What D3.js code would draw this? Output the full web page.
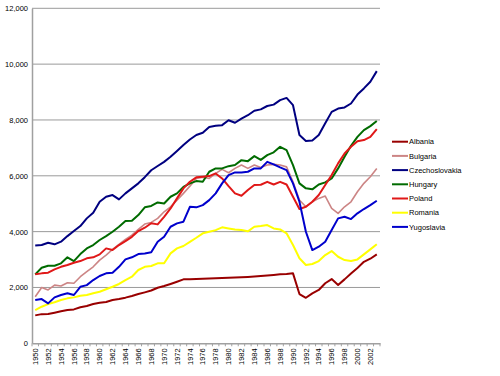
<!DOCTYPE html>
<html>
<head>
<meta charset="utf-8">
<script src="https://cdn.jsdelivr.net/npm/d3@7"></script>
<style>
  body { margin: 0; background: #fff; }
  svg text { font-family: "Liberation Sans", Arial, sans-serif; }
</style>
</head>
<body>
<div id="chart"></div>
<script>
// years on the category axis
var years = d3.range(1950, 2004)

// series values, one per year 1950..2003
var albania = [1000,1045,1050,1095,1145,1190,1215,1290,1335,1405,1455,1480,1550,1585,1635,1695,1765,1825,1890,1990,
  2050,2125,2205,2290,2290,2300,2310,2320,2330,2335,2345,2355,2365,2375,2390,2410,2430,2450,2470,2480,
  2505,1765,1630,1790,1910,2150,2300,2090,2290,2500,2700,2920,3030,3185]
var bulgaria = [1670,2000,1910,2085,2050,2170,2150,2385,2565,2740,2980,3160,3365,3545,3725,3875,4080,4270,4330,4475,
  4710,4890,5130,5370,5630,5905,5945,5905,6085,6230,6110,6265,6385,6265,6385,6300,6385,6410,6385,6320,
  5785,5130,4890,5070,5190,5275,4835,4655,4890,5070,5430,5730,5965,6265]
var czechoslovakia = [3500,3520,3600,3545,3640,3840,4020,4200,4475,4680,5070,5250,5310,5155,5370,5550,5730,5950,6200,6350,
  6500,6680,6890,7100,7300,7460,7540,7750,7790,7815,7990,7900,8050,8170,8330,8380,8500,8550,8710,8790,
  8530,7460,7250,7265,7460,7880,8290,8410,8450,8590,8910,9130,9370,9750]
var hungary = [2470,2705,2780,2780,2865,3080,2945,3195,3400,3520,3700,3840,3995,4175,4380,4390,4595,4870,4920,5045,
  5010,5250,5370,5605,5730,5810,5785,6145,6265,6265,6345,6385,6560,6525,6705,6570,6740,6840,7040,6920,
  6385,5730,5550,5515,5690,5765,5905,6265,6680,7075,7395,7635,7780,7960]
var poland = [2470,2505,2530,2650,2740,2805,2885,2945,3045,3080,3185,3400,3340,3520,3660,3815,4020,4140,4300,4260,
  4530,4830,5190,5550,5785,5945,5965,5990,6085,5905,5630,5370,5285,5490,5670,5680,5785,5690,5785,5690,
  5250,4810,4890,5070,5310,5670,6025,6445,6800,7040,7240,7280,7395,7670]
var romania = [1190,1310,1405,1470,1550,1610,1645,1705,1730,1790,1845,1935,2025,2125,2265,2385,2625,2740,2770,2865,
  2865,3220,3400,3485,3635,3780,3940,3995,4055,4155,4115,4080,4055,4010,4175,4200,4235,4115,4080,3940,
  3520,3045,2805,2840,2945,3160,3305,3100,2980,2945,3005,3185,3365,3545]
var yugoslavia = [1550,1585,1430,1645,1730,1790,1730,2025,2085,2265,2410,2505,2530,2740,3005,3080,3195,3220,3260,3635,
  3815,4175,4295,4355,4890,4870,4950,5130,5370,5730,6025,6120,6120,6145,6265,6265,6500,6410,6300,6205,
  5730,5070,3995,3340,3460,3635,4055,4475,4535,4450,4655,4810,4950,5105]

var seriesNames = ["Albania", "Bulgaria", "Czechoslovakia", "Hungary", "Poland", "Romania", "Yugoslavia"]
var seriesValues = [albania, bulgaria, czechoslovakia, hungary, poland, romania, yugoslavia]
var seriesColors = ["#990000", "#cc8585", "#000080", "#006b00", "#e01818", "#ffff00", "#0000cc"]
var yTicks = [0, 2000, 4000, 6000, 8000, 10000, 12000]

/********** Chart **********/
var width = 500, height = 376
var plot = {left: 32, right: 380, top: 8.3, bottom: 343.3}

var svg = d3.select("#chart").append("svg")
    .attr("width", width)
    .attr("height", height)

var x = d3.scaleBand()
    .domain(years)
    .range([plot.left, plot.right])
    .paddingInner(0).paddingOuter(0)

var y = d3.scaleLinear()
    .domain([0, 12000])
    .range([plot.bottom, plot.top])

// gridlines
svg.append("g")
  .selectAll("line")
  .data(yTicks.filter(function(d) { return d > 0 }))
  .join("line")
    .attr("x1", plot.left).attr("x2", plot.right)
    .attr("y1", function(d) { return y(d) }).attr("y2", function(d) { return y(d) })
    .attr("stroke", "#9a9a9a")
    .attr("stroke-width", 1)

// y axis
var yAxis = svg.append("g")
    .attr("transform", "translate(" + plot.left + ",0)")
    .call(d3.axisLeft(y).tickValues(yTicks).tickSize(0).tickPadding(4).tickFormat(d3.format(",")))
yAxis.select(".domain").attr("stroke", "#a0a0a0").attr("stroke-width", 1.5)
yAxis.selectAll("text").style("font-size", "7.5px").attr("fill", "#000")

// x axis
var xAxis = svg.append("g")
    .attr("transform", "translate(0," + plot.bottom + ")")
    .call(d3.axisBottom(x).tickSize(0).tickPadding(5)
      .tickFormat(function(d) { return d % 2 === 0 ? d : "" }))
xAxis.select(".domain").attr("stroke", "#a0a0a0").attr("stroke-width", 1.5)
xAxis.selectAll("text")
    .style("font-size", "7.5px")
    .attr("fill", "#000")
    .attr("text-anchor", "end")
    .attr("transform", "rotate(-90)")
    .attr("x", -5).attr("y", 0).attr("dy", "0.35em")

// category boundary ticks
svg.append("g")
  .selectAll("line")
  .data(years.concat([2004]))
  .join("line")
    .attr("x1", function(d) { return d === 2004 ? plot.right : x(d) })
    .attr("x2", function(d) { return d === 2004 ? plot.right : x(d) })
    .attr("y1", plot.bottom).attr("y2", plot.bottom + 3)
    .attr("stroke", "#a0a0a0")

// lines
var line = d3.line()
    .x(function(d, i) { return x(years[i]) + x.bandwidth() / 2 })
    .y(function(d) { return y(d) })

svg.append("g")
  .selectAll("path")
  .data(seriesValues)
  .join("path")
    .attr("fill", "none")
    .attr("stroke", function(d, i) { return seriesColors[i] })
    .attr("stroke-width", function(d, i) { return i === 1 ? 1.6 : 2 })
    .attr("stroke-linejoin", "round")
    .attr("d", line)

// legend
var legend = svg.append("g")
  .selectAll("g")
  .data(seriesNames)
  .join("g")
    .attr("transform", function(d, i) { return "translate(392," + (141.7 + i * 14.2) + ")" })
legend.append("line")
    .attr("x1", 0).attr("x2", 16)
    .attr("stroke", function(d, i) { return seriesColors[i] })
    .attr("stroke-width", 2)
legend.append("text")
    .attr("x", 17).attr("dy", "0.35em")
    .style("font-size", "7.5px")
    .attr("fill", "#000")
    .text(function(d) { return d })
</script>
</body>
</html>
